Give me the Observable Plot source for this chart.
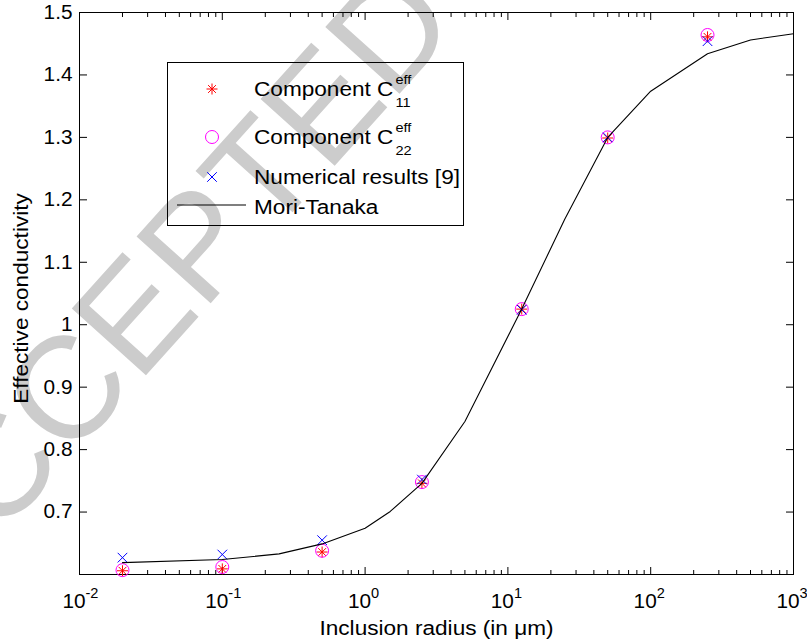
<!DOCTYPE html>
<html><head><meta charset="utf-8">
<script src="https://cdn.jsdelivr.net/npm/d3@7"></script>
<script src="https://cdn.jsdelivr.net/npm/@observablehq/plot@0.6"></script>
<style>
body{margin:0;background:#fff;}
#chart{position:relative;width:807px;height:642px;overflow:hidden;}
</style>
</head><body><div id="chart"></div>
<script>
// Data
const radius = [0.02, 0.1, 0.5, 2.5, 12.5, 50, 250];
const c11 = [0.606, 0.609, 0.636, 0.746, 1.025, 1.299, 1.461];
const c22 = [0.607, 0.612, 0.638, 0.748, 1.025, 1.300, 1.464];
const numerical = [0.627, 0.632, 0.655, 0.752, 1.024, 1.300, 1.454];
const mtRadius = [0.02, 0.1, 0.25, 0.5, 1, 1.5, 2.5, 5, 12.5, 25, 50, 100, 250, 500, 1000];
const mtValue = [0.619, 0.624, 0.633, 0.649, 0.674, 0.701, 0.746, 0.845, 1.025, 1.169, 1.300, 1.374, 1.434, 1.456, 1.466];
const xMajor = [0.01, 0.1, 1, 10, 100, 1000];
const xExp = ["-2", "-1", "0", "1", "2", "3"];
const yTicks = [0.7, 0.8, 0.9, 1, 1.1, 1.2, 1.3, 1.4, 1.5];
const legendLabels = ["Component C", "Component C", "Numerical results [9]", "Mori-Tanaka"];

const xMinor = [];
for (let i = 0; i < xMajor.length - 1; i++) for (let m = 2; m <= 9; m++) xMinor.push(xMajor[i] * m);

const pts = radius.map((r, i) => ({r, c11: c11[i], c22: c22[i], num: numerical[i]}));
const mt = mtRadius.map((r, i) => ({r, v: mtValue[i]}));

const star = {draw(ctx, size) {
  const r = Math.sqrt(size / Math.PI), d = r * Math.SQRT1_2;
  ctx.moveTo(-r, 0); ctx.lineTo(r, 0); ctx.moveTo(0, -r); ctx.lineTo(0, r);
  ctx.moveTo(-d, -d); ctx.lineTo(d, d); ctx.moveTo(-d, d); ctx.lineTo(d, -d);
}};
const cross = {draw(ctx, size) {
  const r = Math.sqrt(size / Math.PI);
  ctx.moveTo(-r, -r); ctx.lineTo(r, r); ctx.moveTo(-r, r); ctx.lineTo(r, -r);
}};
const ring = {draw(ctx, size) {
  const r = Math.sqrt(size / Math.PI);
  ctx.moveTo(r, 0); ctx.arc(0, 0, r, 0, 2 * Math.PI);
}};

const font = "'Liberation Sans', Arial, Helvetica, sans-serif";
const plot = Plot.plot({
  width: 807, height: 642,
  marginLeft: 79, marginRight: 14, marginTop: 12, marginBottom: 68,
  style: {fontFamily: font, fontSize: "20px", background: "transparent", color: "black"},
  x: {type: "log", domain: [0.01, 1000]},
  y: {domain: [0.6, 1.5]},
  marks: [
    Plot.axisX({anchor: "bottom", ticks: xMajor, tickSize: -7, tickFormat: () => "", label: null}),
    Plot.axisX({anchor: "bottom", ticks: xMinor, tickSize: -4, tickFormat: () => "", label: null}),
    Plot.axisX({anchor: "top", ticks: xMajor, tickSize: -7, tickFormat: () => "", label: null}),
    Plot.axisX({anchor: "top", ticks: xMinor, tickSize: -4, tickFormat: () => "", label: null}),
    Plot.axisY({anchor: "left", ticks: yTicks, tickSize: -8, tickPadding: 15, tickFormat: d => String(d), label: null}),
    Plot.axisY({anchor: "right", ticks: yTicks, tickSize: -8, tickFormat: () => "", label: null}),
    Plot.frame({stroke: "black"}),
    Plot.text(xMajor, {x: d => d, frameAnchor: "bottom", dy: 27, dx: 6, text: () => "10", textAnchor: "end", lineAnchor: "middle"}),
    Plot.text(xMajor, {x: d => d, frameAnchor: "bottom", dy: 19, dx: 6, text: (d, i) => xExp[i], textAnchor: "start", lineAnchor: "middle", fontSize: 14}),
    Plot.text(["Inclusion radius (in μm)"], {frameAnchor: "bottom", dy: 54, textAnchor: "middle", lineAnchor: "middle"}),
    Plot.text(["Effective conductivity"], {frameAnchor: "left", dx: -58, dy: 5, rotate: -90, textAnchor: "middle", lineAnchor: "middle"}),
    Plot.dot(pts, {x: "r", y: "c11", symbol: star, r: 5.5, stroke: "#ff0000", fill: "none", strokeWidth: 1}),
    Plot.dot(pts, {x: "r", y: "c22", symbol: ring, r: 6.5, stroke: "#ff00ff", fill: "none", strokeWidth: 1}),
    Plot.dot(pts, {x: "r", y: "num", symbol: cross, r: 4.8, stroke: "#0000ff", fill: "none", strokeWidth: 1}),
    Plot.line(mt, {x: "r", y: "v", stroke: "black", strokeWidth: 1.1})
  ]
});
document.getElementById("chart").appendChild(plot);

const svg = d3.select(plot);
// horizontal stretch of the texts to match the reference's wide glyphs
function stretch(node, k) {
  const len = node.getComputedTextLength();
  if (len > 0) { node.setAttribute("textLength", (len * k).toFixed(2)); node.setAttribute("lengthAdjust", "spacingAndGlyphs"); }
  return len * k;
}
svg.selectAll("text").each(function() {
  const t = this.textContent;
  const k = /^[0-9.\-]+$/.test(t) ? 1.04 : 1.13;
  stretch(this, k);
});

// watermark behind everything
svg.insert("text", ":first-child")
  .attr("transform", "translate(-104,578) rotate(-48)")
  .attr("font-family", font).attr("font-size", 145).attr("text-anchor", "start")
  .attr("fill", "#cccccc").attr("dominant-baseline", "central")
  .text("ACCEPTED MANUSCRIPT");

// legend
const lg = svg.append("g").attr("font-family", font).attr("font-size", 20).attr("text-anchor", "start");
lg.append("rect").attr("x", 167.5).attr("y", 62.5).attr("width", 296).attr("height", 163)
  .attr("fill", "none").attr("stroke", "black");
const symPath = (sym, r) => { const p = d3.path(); sym.draw(p, r * r * Math.PI); return p.toString(); };
lg.append("path").attr("transform", "translate(212,89)").attr("d", symPath(star, 5.5)).attr("stroke", "#ff0000").attr("fill", "none");
lg.append("path").attr("transform", "translate(212,137)").attr("d", symPath(ring, 6.5)).attr("stroke", "#ff00ff").attr("fill", "none");
lg.append("path").attr("transform", "translate(212,177)").attr("d", symPath(cross, 4.8)).attr("stroke", "#0000ff").attr("fill", "none");
lg.append("line").attr("x1", 177).attr("x2", 246).attr("y1", 205).attr("y2", 205).attr("stroke", "black").attr("stroke-width", 1.1);
const subs = [["eff", "11"], ["eff", "22"]];
const base = [95.5, 143.5, 183.5, 213.5];
legendLabels.forEach((t, i) => {
  const tx = lg.append("text").attr("x", 254).attr("y", base[i]).text(t);
  const w = stretch(tx.node(), 1.13);
  if (i < 2) {
    const a = lg.append("text").attr("x", 254 + w + 2).attr("y", base[i] - 12).attr("font-size", 13.5).text(subs[i][0]);
    const b = lg.append("text").attr("x", 254 + w + 2).attr("y", base[i] + 11).attr("font-size", 13.5).text(subs[i][1]);
    stretch(a.node(), 1.08); stretch(b.node(), 1.08);
  }
});
</script>
</body></html>
